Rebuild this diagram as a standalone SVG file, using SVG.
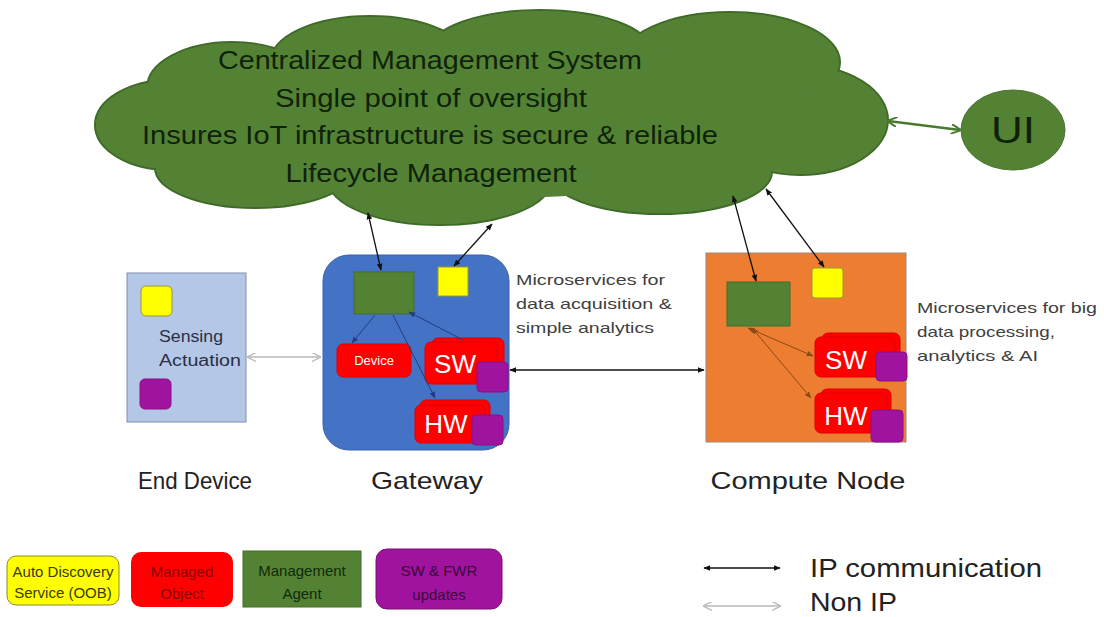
<svg xmlns="http://www.w3.org/2000/svg" width="1104" height="617" viewBox="0 0 1104 617">
<style>
text{font-family:"Liberation Sans",Arial,sans-serif}
.cl{fill:#548235;stroke:#3f6a28;stroke-width:2}
.cf{fill:#548235}
.ct{font-size:25px;fill:#0f2208;text-anchor:middle}
.lab{font-size:24px;fill:#222;text-anchor:middle}
.ms{font-size:15px;fill:#404040}
.red{fill:#f00;stroke:#e00000;stroke-width:1}
.pur{fill:#a0139e;stroke:#8a1088;stroke-width:1}
.yel{fill:#ff0;stroke:#9a9a30;stroke-width:1}
.agent{fill:#548235;stroke:#456d2c;stroke-width:1}
.ip{stroke:#111;stroke-width:1.3;fill:none}
.nip{stroke:#b8b8b8;stroke-width:1.5;fill:none}
.gw{stroke:#1f3d80;stroke-width:1;fill:none}
.cn{stroke:#8a4a1a;stroke-width:1;fill:none}
.wt{fill:#fff;text-anchor:middle}
.lg{font-size:15px;text-anchor:middle}
</style>
<defs>
<marker id="ah" viewBox="0 0 10 10" refX="9" refY="5" markerWidth="7" markerHeight="7" orient="auto-start-reverse" markerUnits="userSpaceOnUse"><path d="M0,1 L10,5 L0,9 z" fill="#111"/></marker>
<marker id="ahg" viewBox="0 0 10 10" refX="9" refY="5" markerWidth="9" markerHeight="9" orient="auto-start-reverse" markerUnits="userSpaceOnUse"><path d="M0,0 L10,5 L0,10" fill="none" stroke="#b8b8b8" stroke-width="1.5"/></marker>
<marker id="ahb" viewBox="0 0 10 10" refX="9" refY="5" markerWidth="7" markerHeight="7" orient="auto-start-reverse" markerUnits="userSpaceOnUse"><path d="M0,1 L10,5 L0,9 z" fill="#1f3d80"/></marker>
<marker id="ahc" viewBox="0 0 10 10" refX="9" refY="5" markerWidth="7" markerHeight="7" orient="auto-start-reverse" markerUnits="userSpaceOnUse"><path d="M0,1 L10,5 L0,9 z" fill="#8a4a1a"/></marker>
<marker id="ahu" viewBox="0 0 10 10" refX="9" refY="5" markerWidth="10" markerHeight="10" orient="auto-start-reverse" markerUnits="userSpaceOnUse"><path d="M0,0 L10,5 L0,10" fill="none" stroke="#4a7a30" stroke-width="2"/></marker>
</defs>
<rect width="1104" height="617" fill="#fff"/>

<g id="cloud">
<ellipse class="cl" cx="170" cy="125" rx="75" ry="45"/>
<ellipse class="cl" cx="255" cy="168" rx="100" ry="40"/>
<ellipse class="cl" cx="440" cy="180" rx="112" ry="45"/>
<ellipse class="cl" cx="660" cy="172" rx="112" ry="42"/>
<ellipse class="cl" cx="800" cy="120" rx="88" ry="55"/>
<ellipse class="cl" cx="730" cy="62" rx="110" ry="50"/>
<ellipse class="cl" cx="540" cy="50" rx="110" ry="40"/>
<ellipse class="cl" cx="370" cy="62" rx="100" ry="46"/>
<ellipse class="cl" cx="232" cy="88" rx="85" ry="46"/>
<ellipse class="cf" cx="170" cy="125" rx="74" ry="44"/>
<ellipse class="cf" cx="255" cy="168" rx="99" ry="39"/>
<ellipse class="cf" cx="440" cy="180" rx="111" ry="44"/>
<ellipse class="cf" cx="660" cy="172" rx="111" ry="41"/>
<ellipse class="cf" cx="800" cy="120" rx="87" ry="54"/>
<ellipse class="cf" cx="730" cy="62" rx="109" ry="49"/>
<ellipse class="cf" cx="540" cy="50" rx="109" ry="39"/>
<ellipse class="cf" cx="370" cy="62" rx="99" ry="45"/>
<ellipse class="cf" cx="232" cy="88" rx="84" ry="45"/>
<ellipse class="cf" cx="490" cy="120" rx="340" ry="78"/>
<text class="ct" x="430" y="69" textLength="424" lengthAdjust="spacingAndGlyphs">Centralized Management System</text>
<text class="ct" x="431" y="107" textLength="312" lengthAdjust="spacingAndGlyphs">Single point of oversight</text>
<text class="ct" x="430" y="144" textLength="576" lengthAdjust="spacingAndGlyphs">Insures IoT infrastructure is secure &amp; reliable</text>
<text class="ct" x="431" y="182" textLength="291" lengthAdjust="spacingAndGlyphs">Lifecycle Management</text>
</g>

<g id="ui">
<ellipse cx="1013" cy="130" rx="52" ry="40" fill="#548235" stroke="#4a7530" stroke-width="1"/>
<text x="1013" y="143" font-size="36" fill="#0f2208" text-anchor="middle" textLength="44" lengthAdjust="spacingAndGlyphs">UI</text>
</g>

<g id="end-device">
<rect x="127" y="273" width="119" height="149" fill="#b4c7e7" stroke="#7f8fa8" stroke-width="1"/>
<rect class="yel" x="141" y="286" width="31" height="30" rx="5"/>
<rect class="pur" x="140" y="379" width="31" height="30" rx="5"/>
<text x="159" y="342" font-size="16" fill="#2a2f45" textLength="64" lengthAdjust="spacingAndGlyphs">Sensing</text>
<text x="159" y="366" font-size="16" fill="#2a2f45" textLength="82" lengthAdjust="spacingAndGlyphs">Actuation</text>
<text class="lab" x="195" y="489" textLength="114" lengthAdjust="spacingAndGlyphs">End Device</text>
</g>

<g id="gateway">
<rect x="323" y="255" width="186" height="195" rx="26" fill="#4472c4" stroke="#3a62aa" stroke-width="1"/>
<rect class="agent" x="354" y="272" width="60" height="42"/>
<rect class="yel" x="438" y="267" width="30" height="29"/>
<rect class="red" x="337" y="344" width="74" height="33" rx="6"/>
<text class="wt" x="374" y="365" font-size="13">Device</text>
<rect class="red" x="432" y="338" width="72" height="40" rx="6"/>
<rect class="red" x="425" y="342" width="72" height="42" rx="6"/>
<text class="wt" x="455" y="373" font-size="26">SW</text>
<rect class="pur" x="477" y="362" width="31" height="30" rx="4"/>
<rect class="red" x="420" y="400" width="70" height="38" rx="6"/>
<rect class="red" x="415" y="405" width="70" height="38" rx="6"/>
<text class="wt" x="446" y="433" font-size="26">HW</text>
<rect class="pur" x="472" y="415" width="31" height="30" rx="4"/>
<text class="lab" x="427" y="489" textLength="112" lengthAdjust="spacingAndGlyphs">Gateway</text>
</g>

<g id="gateway-note">
<text class="ms" x="516" y="285" textLength="149" lengthAdjust="spacingAndGlyphs">Microservices for</text>
<text class="ms" x="516" y="309" textLength="156" lengthAdjust="spacingAndGlyphs">data acquisition &amp;</text>
<text class="ms" x="516" y="333" textLength="138" lengthAdjust="spacingAndGlyphs">simple analytics</text>
</g>

<g id="compute-node">
<rect x="706" y="253" width="200" height="189" fill="#ed7d31" stroke="#9a8a80" stroke-width="1"/>
<rect class="agent" x="727" y="282" width="63" height="44"/>
<rect class="yel" x="812" y="268" width="31" height="30" rx="3"/>
<rect class="red" x="822" y="333" width="78" height="40" rx="6"/>
<rect class="red" x="815" y="337" width="80" height="40" rx="6"/>
<text class="wt" x="846" y="369" font-size="26">SW</text>
<rect class="pur" x="876" y="352" width="31" height="29" rx="4"/>
<rect class="red" x="821" y="389" width="70" height="40" rx="6"/>
<rect class="red" x="815" y="393" width="72" height="40" rx="6"/>
<text class="wt" x="846" y="425" font-size="26">HW</text>
<rect class="pur" x="871" y="410" width="32" height="32" rx="4"/>
<text class="lab" x="808" y="489" textLength="195" lengthAdjust="spacingAndGlyphs">Compute Node</text>
</g>

<g id="compute-note">
<text class="ms" x="917" y="313" textLength="180" lengthAdjust="spacingAndGlyphs">Microservices for big</text>
<text class="ms" x="917" y="337" textLength="138" lengthAdjust="spacingAndGlyphs">data processing,</text>
<text class="ms" x="917" y="361" textLength="121" lengthAdjust="spacingAndGlyphs">analytics &amp; AI</text>
</g>

<g id="connectors">
<line x1="888" y1="121" x2="960" y2="130" stroke="#4a7a30" stroke-width="2.5" marker-start="url(#ahu)" marker-end="url(#ahu)"/>
<line class="ip" x1="368" y1="213" x2="381" y2="270" marker-start="url(#ah)" marker-end="url(#ah)"/>
<line class="ip" x1="492" y1="224" x2="454" y2="266" marker-start="url(#ah)" marker-end="url(#ah)"/>
<line class="ip" x1="733" y1="196" x2="756" y2="281" marker-start="url(#ah)" marker-end="url(#ah)"/>
<line class="ip" x1="766" y1="189" x2="824" y2="267" marker-start="url(#ah)" marker-end="url(#ah)"/>
<line class="ip" x1="510" y1="370" x2="704" y2="370" marker-start="url(#ah)" marker-end="url(#ah)"/>
<line class="nip" x1="248" y1="357" x2="320" y2="357" marker-start="url(#ahg)" marker-end="url(#ahg)"/>
<line class="gw" x1="375" y1="315" x2="352" y2="343" marker-end="url(#ahb)"/>
<line class="gw" x1="393" y1="315" x2="435" y2="398" marker-end="url(#ahb)"/>
<line class="gw" x1="463" y1="340" x2="409" y2="312" marker-end="url(#ahb)"/>
<line class="cn" x1="748" y1="328" x2="813" y2="356" marker-start="url(#ahc)" marker-end="url(#ahc)"/>
<line class="cn" x1="752" y1="328" x2="811" y2="398" marker-start="url(#ahc)" marker-end="url(#ahc)"/>
</g>

<g id="legend-discovery">
<rect x="7" y="556" width="112" height="49" rx="9" fill="#ff0" stroke="#8a8a30" stroke-width="1"/>
<text class="lg" x="63" y="577" fill="#3a3a10">Auto Discovery</text>
<text class="lg" x="63" y="598" fill="#3a3a10">Service (OOB)</text>
</g>
<g id="legend-managed">
<rect x="131" y="552" width="102" height="55" rx="10" fill="#f00"/>
<text class="lg" x="182" y="577" fill="#8a0000" font-size="16">Managed</text>
<text class="lg" x="182" y="599" fill="#8a0000" font-size="16">Object</text>
</g>
<g id="legend-agent">
<rect x="243" y="551" width="118" height="56" fill="#548235" stroke="#456d2c" stroke-width="1"/>
<text class="lg" x="302" y="576" fill="#102a08">Management</text>
<text class="lg" x="302" y="599" fill="#102a08">Agent</text>
</g>
<g id="legend-updates">
<rect x="376" y="549" width="126" height="60" rx="11" fill="#a0139e" stroke="#7a0e78" stroke-width="1"/>
<text class="lg" x="439" y="576" fill="#3a0a3a" font-size="17">SW &amp; FWR</text>
<text class="lg" x="439" y="600" fill="#3a0a3a" font-size="17">updates</text>
</g>
<g id="legend-lines">
<line class="ip" x1="704" y1="568" x2="780" y2="568" marker-start="url(#ah)" marker-end="url(#ah)"/>
<line class="nip" x1="704" y1="606" x2="780" y2="606" marker-start="url(#ahg)" marker-end="url(#ahg)"/>
<text x="810" y="577" font-size="26" fill="#222" textLength="232" lengthAdjust="spacingAndGlyphs">IP communication</text>
<text x="810" y="611" font-size="25" fill="#222" textLength="87" lengthAdjust="spacingAndGlyphs">Non IP</text>
</g>
</svg>
